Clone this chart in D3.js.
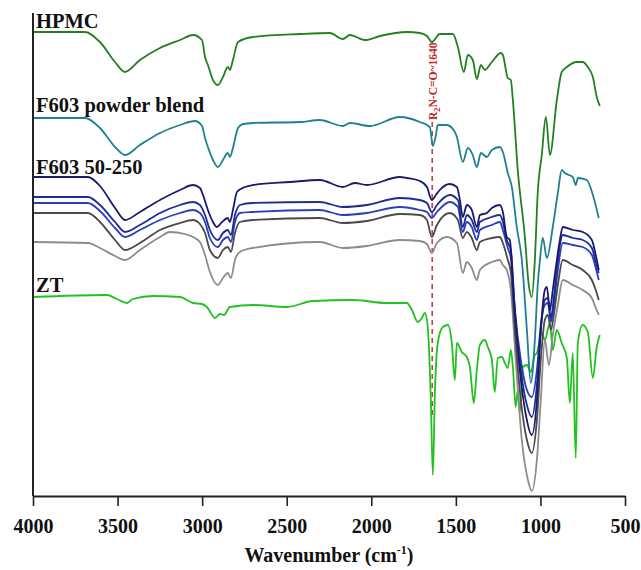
<!DOCTYPE html>
<html><head><meta charset="utf-8">
<script src="https://cdn.jsdelivr.net/npm/d3@7"></script>
<style>body{margin:0;background:#fff}</style>
</head><body>
<svg id="c" width="641" height="570"></svg>
<script>
// Wavenumber (cm-1), transmittance (arbitrary units, curves offset)
const hpmc = [[4000,464],[3693,464],[3604,454],[3515,434],[3456,424],[3368,436],[3249,448],[3131,456],[3054,461],[3001,456],[2983,439],[2966,431],[2936,416],[2907,411],[2877,419],[2848,429],[2836,426],[2818,436],[2788,454],[2700,459],[2422,462],[2245,463],[2168,457],[2127,461],[2038,456],[1949,460],[1790,464],[1713,463],[1671,460],[1642,454],[1595,462],[1518,462],[1488,449],[1453,424],[1429,441],[1400,436],[1376,417],[1352,431],[1329,426],[1287,434],[1234,443],[1222,441],[1193,418],[1175,416],[1163,396],[1134,326],[1092,259],[1069,211],[1051,199],[1033,236],[1016,303],[992,341],[968,379],[944,341],[903,396],[874,424],[844,429],[785,434],[750,434],[720,429],[690,419],[667,399],[649,390]];
const blend = [[4000,378],[3693,378],[3604,368],[3515,349],[3456,341],[3368,351],[3249,363],[3131,371],[3043,375],[3001,370],[2983,358],[2966,349],[2936,336],[2907,329],[2877,336],[2848,343],[2836,339],[2818,348],[2788,368],[2759,372],[2700,373],[2422,374],[2304,376],[2168,370],[2127,373],[2008,370],[1831,379],[1713,374],[1654,369],[1636,350],[1618,361],[1607,371],[1553,371],[1506,364],[1494,359],[1459,334],[1429,348],[1400,341],[1376,329],[1352,343],[1317,339],[1287,346],[1240,349],[1222,344],[1193,323],[1169,309],[1140,269],[1110,236],[1080,166],[1057,113],[1033,156],[1016,211],[1004,234],[986,258],[962,238],[927,269],[897,303],[874,326],[856,323],[809,319],[791,311],[779,318],[726,316],[690,301],[655,278]];
const f603a = [[4000,319],[3675,319],[3604,310],[3515,288],[3456,276],[3368,284],[3249,296],[3131,306],[3054,311],[3013,308],[2995,301],[2966,286],[2936,274],[2913,269],[2883,274],[2848,278],[2836,274],[2818,286],[2794,304],[2747,309],[2700,311],[2481,314],[2304,316],[2168,309],[2097,313],[2026,311],[1831,319],[1790,318],[1713,315],[1671,309],[1642,296],[1618,301],[1595,306],[1536,312],[1494,309],[1476,296],[1459,279],[1435,291],[1406,286],[1376,269],[1358,281],[1317,283],[1287,288],[1240,291],[1222,284],[1199,259],[1181,256],[1157,196],[1122,126],[1086,81],[1051,61],[1021,96],[998,166],[974,206],[962,209],[944,186],[927,206],[903,236],[885,256],[868,269],[809,266],[750,264],[696,256],[673,241],[655,226]];
const f603b = [[4000,299],[3675,299],[3604,291],[3515,274],[3456,264],[3368,271],[3249,283],[3131,291],[3054,294],[3013,291],[2983,281],[2954,266],[2907,256],[2877,263],[2848,266],[2830,261],[2806,281],[2777,291],[2700,293],[2304,294],[2168,289],[2026,291],[1831,298],[1713,296],[1671,293],[1642,284],[1612,291],[1536,301],[1488,296],[1459,269],[1435,281],[1406,276],[1376,264],[1358,274],[1287,279],[1240,281],[1222,274],[1199,256],[1175,246],[1151,186],[1116,126],[1080,91],[1051,79],[1021,111],[998,166],[974,196],[956,198],[938,178],[921,198],[897,236],[868,261],[809,258],[750,256],[696,248],[673,234],[655,223]];
const f603c = [[4000,293],[3675,293],[3604,285],[3515,268],[3456,259],[3368,266],[3249,276],[3131,283],[3054,286],[3013,283],[2983,274],[2954,258],[2907,249],[2877,256],[2848,259],[2830,254],[2806,274],[2777,283],[2700,284],[2304,286],[2168,281],[2026,283],[1831,289],[1713,286],[1671,284],[1642,278],[1612,284],[1536,294],[1488,289],[1459,264],[1435,274],[1406,269],[1376,256],[1358,266],[1287,271],[1240,274],[1222,266],[1193,248],[1175,238],[1151,186],[1116,136],[1080,106],[1051,99],[1021,126],[998,171],[974,191],[956,193],[938,174],[921,191],[897,226],[868,253],[809,251],[750,249],[696,241],[673,228],[655,216]];
const f603d = [[4000,283],[3675,283],[3604,274],[3515,256],[3456,246],[3368,253],[3249,266],[3131,273],[3054,276],[3013,272],[2983,263],[2954,246],[2907,238],[2877,246],[2848,249],[2830,244],[2806,263],[2777,274],[2700,276],[2304,278],[2168,273],[2026,275],[1831,282],[1713,281],[1671,276],[1642,259],[1612,271],[1536,283],[1488,276],[1459,258],[1435,264],[1406,258],[1376,246],[1358,254],[1287,258],[1240,259],[1222,253],[1193,236],[1175,224],[1151,166],[1116,96],[1080,56],[1051,43],[1021,76],[998,136],[974,176],[956,181],[938,166],[921,181],[897,211],[868,236],[809,231],[750,226],[696,216],[673,206],[655,196]];
const f603e = [[4000,254],[3675,253],[3604,248],[3515,240],[3456,236],[3368,246],[3249,259],[3190,264],[3102,262],[3054,259],[3013,254],[2983,241],[2954,224],[2907,211],[2877,218],[2848,223],[2830,218],[2806,236],[2777,244],[2700,248],[2304,254],[2168,248],[2026,250],[1831,256],[1713,255],[1671,252],[1642,243],[1612,253],[1553,259],[1494,253],[1459,223],[1435,234],[1406,228],[1376,216],[1358,226],[1287,234],[1240,236],[1222,231],[1199,226],[1175,206],[1146,136],[1110,56],[1074,16],[1051,5],[1021,36],[998,96],[974,156],[950,131],[927,161],[897,191],[868,216],[809,211],[750,206],[696,198],[673,188],[655,181]];
const zt = [[4000,199],[3563,201],[3504,197],[3444,193],[3409,197],[3291,200],[3131,199],[3054,193],[3001,192],[2972,189],[2924,178],[2895,182],[2871,181],[2836,189],[2700,191],[2499,189],[2345,195],[2109,196],[1908,193],[1790,193],[1760,186],[1725,174],[1701,178],[1683,183],[1666,169],[1648,96],[1636,21],[1624,103],[1607,153],[1577,169],[1547,171],[1524,153],[1506,116],[1494,153],[1465,144],[1435,139],[1417,129],[1394,93],[1376,126],[1358,151],[1329,156],[1311,149],[1287,136],[1270,104],[1252,138],[1228,139],[1210,133],[1193,128],[1175,146],[1163,129],[1146,89],[1134,106],[1122,83],[1104,129],[1080,131],[1057,124],[1033,141],[1021,143],[992,163],[974,156],[944,173],[927,146],[903,166],[874,153],[844,138],[826,93],[809,143],[791,38],[779,153],[750,171],[720,164],[690,118],[667,149],[649,161]];

const xTicks = [4000,3500,3000,2500,2000,1500,1000,500];
const minorTicks = [3750,3250,2750,2250,1750,1250,750];
const seriesNames = ["ZT","F603 50-250 e","F603 50-250 d","F603 50-250 c","F603 50-250 b","F603 50-250 a","F603 powder blend","HPMC"];
const seriesData = [zt,f603e,f603d,f603c,f603b,f603a,blend,hpmc];
const seriesColors = ["#22c21e","#8c8c8c","#4a4a4a","#2a3dbd","#1f2c96","#1a1a6e","#1f8092","#23801f"];
const labels = [["HPMC",28],["F603 powder blend",112],["F603 50-250",174],["ZT",292]];
const markerWn = 1640;

const svg = d3.select("#c");
const x = d3.scaleLinear().domain([4000,500]).range([33,625]);
const y = d3.scaleLinear().domain([0,483]).range([496,13]);

const line = d3.line().x(d=>x(d[0])).y(d=>y(d[1])).curve(d3.curveMonotoneX);

// dashed marker line
svg.append("line").attr("x1",x(markerWn)).attr("x2",x(markerWn))
  .attr("y1",y(374)).attr("y2",y(78))
  .attr("stroke","#b8282a").attr("stroke-width",1.4).attr("stroke-dasharray","5,4");

seriesData.forEach((d,i)=>{
  svg.append("path").datum(d).attr("d",line).attr("fill","none")
    .attr("stroke",seriesColors[i]).attr("stroke-width",1.8).attr("stroke-linejoin","round");
});

// marker label
const ml = svg.append("text")
  .attr("transform",`translate(${x(markerWn)+5},${y(374)-2}) rotate(-90)`)
  .attr("font-family","Liberation Serif, Times New Roman, serif")
  .attr("font-size",11.5).attr("font-weight","bold").attr("fill","#c0282a");
ml.append("tspan").text("R");
ml.append("tspan").attr("dy",3).attr("font-size",8.5).text("2");
ml.append("tspan").attr("dy",-3).text("N-C=O~1640");

// series labels
labels.forEach(([t,by])=>{
  svg.append("text").attr("x",36).attr("y",by).text(t)
    .attr("font-family","Liberation Serif, Times New Roman, serif")
    .attr("font-size",20.5).attr("font-weight","bold").attr("fill","#111");
});

// x axis
const gx = svg.append("g").attr("transform","translate(0,496)");
gx.call(d3.axisBottom(x).tickValues(minorTicks).tickSize(5).tickFormat("").tickSizeOuter(0));
gx.call(d3.axisBottom(x).tickValues(xTicks).tickSize(10).tickSizeOuter(0).tickFormat(d3.format("d")));
gx.selectAll("path.domain").attr("stroke","#222").attr("stroke-width",2);
gx.selectAll(".tick line").attr("stroke","#222").attr("stroke-width",1.6);
gx.selectAll(".tick text").attr("font-family","Liberation Serif, Times New Roman, serif")
  .attr("font-size",20).attr("font-weight","bold").attr("fill","#111").attr("dy","1.2em");

// y axis line only
svg.append("line").attr("x1",33).attr("x2",33).attr("y1",y(483)).attr("y2",y(0))
  .attr("stroke","#222").attr("stroke-width",2);

// axis title
const tt = svg.append("text").attr("x",329).attr("y",562).attr("text-anchor","middle")
  .attr("font-family","Liberation Serif, Times New Roman, serif")
  .attr("font-size",20).attr("font-weight","bold").attr("fill","#111");
tt.append("tspan").text("Wavenumber (cm");
tt.append("tspan").attr("dy",-8).attr("font-size",12).text("-1");
tt.append("tspan").attr("dy",8).text(")");
</script>
</body></html>
